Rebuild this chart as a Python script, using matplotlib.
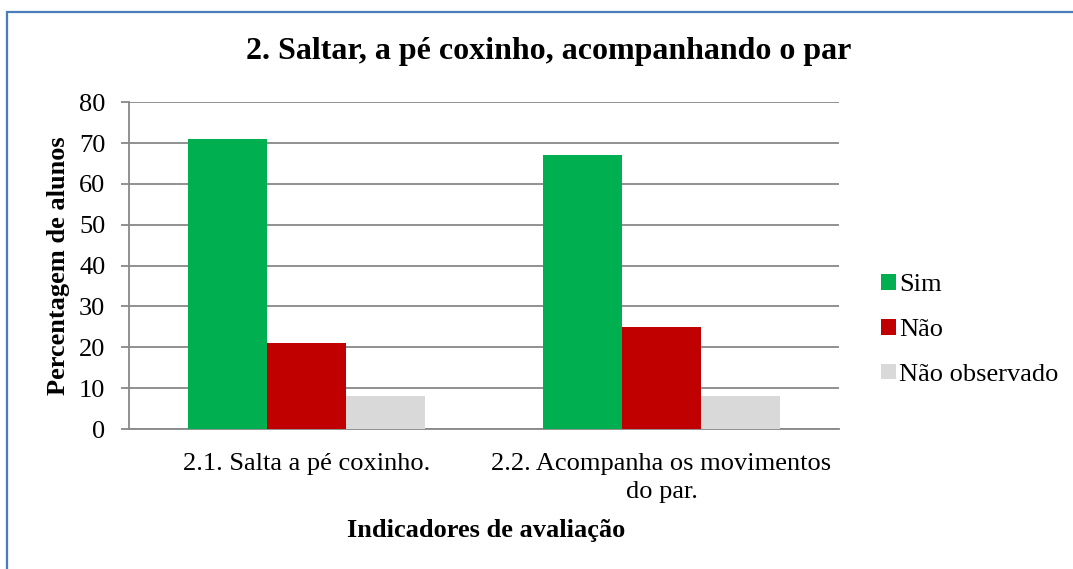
import numpy as np
import matplotlib
matplotlib.use("Agg")
import matplotlib.pyplot as plt
from matplotlib.patches import Rectangle

plt.rcParams['font.family'] = ['Liberation Serif', 'DejaVu Serif']

categories = ["2.1. Salta a pé coxinho.", "2.2. Acompanha os movimentos\ndo par."]
series_names = ["Sim", "Não", "Não observado"]
sim = [71, 67]
nao = [21, 25]
nao_observado = [8, 8]
colors = ["#00B050", "#C00000", "#D9D9D9"]

fig = plt.figure(figsize=(10.73, 5.69), dpi=100)
W, H = 1073, 569

# outer chart border
fig.patches.append(Rectangle((7 / W, 0 - 0.01), 1.2, 1 - 12 / H + 0.01,
                             transform=fig.transFigure, fill=False,
                             edgecolor="#4A7EBB", linewidth=1.6, zorder=10))

ax_bottom, ax_top = 429, 102.3
ax_left, ax_right = 129, 839
ax = fig.add_axes([ax_left / W, 1 - ax_bottom / H, (ax_right - ax_left) / W, (ax_bottom - ax_top) / H])

x = np.arange(len(categories))
bw = 0.2217
for i, (vals, name, c) in enumerate(zip([sim, nao, nao_observado], series_names, colors)):
    ax.bar(x + (i - 1) * bw, vals, width=bw, color=c, label=name, zorder=3)

ax.set_xlim(-0.5, 1.5)
ax.set_ylim(0, 80)
ax.set_yticks(range(0, 81, 10))
ax.yaxis.grid(True, color="#888888", linewidth=1.3, zorder=0)
ax.set_axisbelow(True)
for s in ["top", "right"]:
    ax.spines[s].set_visible(False)
for s in ["left", "bottom"]:
    ax.spines[s].set_color("#888888")
    ax.spines[s].set_linewidth(1.3)
ax.tick_params(axis="y", length=6, width=1.3, color="#888888", labelsize=19, pad=11)
ax.tick_params(axis="x", length=0, labelsize=19, pad=17)
ax.set_xticks(x)
ax.set_xticklabels(categories, ha="center", multialignment="center", linespacing=1.35)

ax.set_ylabel("Percentagem de alunos", fontsize=19, fontweight="bold", va="center")
ax.yaxis.set_label_coords((59 - ax_left) / (ax_right - ax_left), 0.5)
ax.set_xlabel("Indicadores de avaliação", fontsize=19, fontweight="bold", va="center")
ax.xaxis.set_label_coords((486 - ax_left) / (ax_right - ax_left),
                          (ax_bottom - 530) / (ax_bottom - ax_top))
fig.text(549 / W, 1 - 52 / H, "2. Saltar, a pé coxinho, acompanhando o par",
         ha="center", va="center", fontsize=23, fontweight="bold")

ax.legend(loc="center left", bbox_to_anchor=(881 / W, 1 - 330 / H),
          bbox_transform=fig.transFigure, frameon=False, fontsize=19,
          handlelength=0.55, handleheight=0.55, handletextpad=0.15,
          labelspacing=0.85, borderaxespad=0, borderpad=0)

fig.savefig("out.png", dpi=100, facecolor="white")
